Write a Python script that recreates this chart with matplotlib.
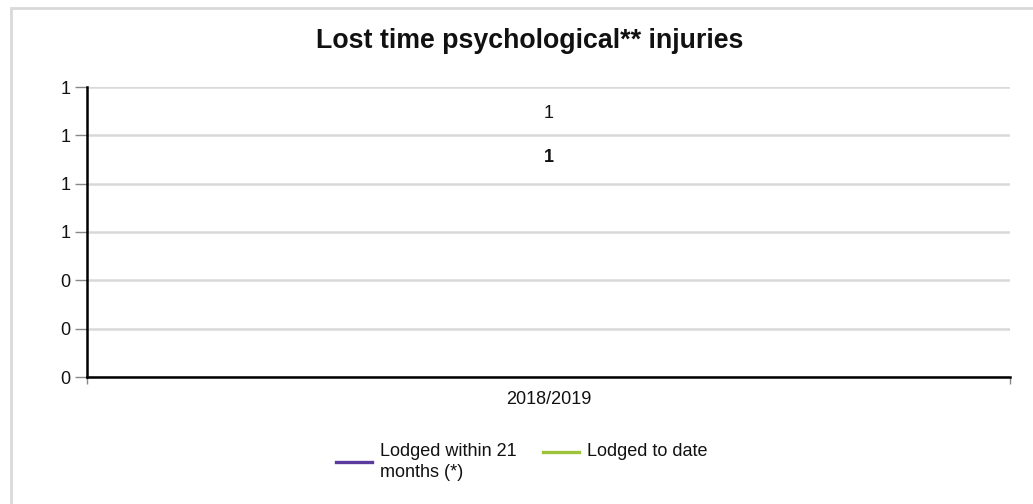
import matplotlib
matplotlib.use("Agg")
import matplotlib.pyplot as plt
from matplotlib.lines import Line2D
from matplotlib.patches import Rectangle
from matplotlib.ticker import FuncFormatter, FixedLocator

plt.rcParams['font.family'] = ['Liberation Sans', 'DejaVu Sans']

# Data
categories = ["2018/2019"]
within_21_months = [1]
to_date = [1]
y_ticks = [0, 0.2, 0.4, 0.6, 0.8, 1.0, 1.2]

PURPLE = "#5b3a9e"
GREEN = "#9dc33b"
GRID = "#d9d9d9"

W, H = 1033, 504
fig = plt.figure(figsize=(W / 100, H / 100), dpi=100)

# Outer panel frame
fig.patches.append(Rectangle((11 / W, -0.1), 1.2, 1 - 8 / H + 0.1,
                             transform=fig.transFigure, fill=False,
                             edgecolor=GRID, linewidth=2.0, zorder=0))

ax = fig.add_axes([87 / W, 1 - 377 / H, (1010 - 87) / W, (377 - 87) / H])
x = list(range(len(categories)))

ax.plot(x, within_21_months, color=PURPLE, linewidth=2.5)
ax.plot(x, to_date, color=GREEN, linewidth=2.5)

# Value labels
for xi, v in zip(x, to_date):
    ax.annotate(f"{v:.0f}", (xi, v), xytext=(0, 15.5), textcoords="offset points",
                ha="center", va="center", fontsize=13, color="#111111")
for xi, v in zip(x, within_21_months):
    ax.annotate(f"{v:.0f}", (xi, v), xytext=(0, -16), textcoords="offset points",
                ha="center", va="center", fontsize=13, fontweight="bold", color="#111111")

ax.set_xlim(-0.5, 0.5)
ax.set_ylim(0, 1.2)
ax.set_yticks(y_ticks)
ax.yaxis.set_major_formatter(FuncFormatter(lambda v, p: f"{v:.0f}"))
ax.set_xticks(x)
ax.set_xticklabels(categories)
ax.xaxis.set_minor_locator(FixedLocator([-0.5, 0.5]))

ax.grid(axis="y", color=GRID, linewidth=1.8)
ax.set_axisbelow(True)
for s in ("top", "right"):
    ax.spines[s].set_visible(False)
for s in ("left", "bottom"):
    ax.spines[s].set_color("black")
    ax.spines[s].set_linewidth(1.8)
    ax.spines[s].set_zorder(5)

ax.tick_params(axis="y", length=9, width=1, color="#888888", pad=3,
               labelsize=13, labelcolor="#111111")
ax.tick_params(axis="x", which="major", length=0, pad=10,
               labelsize=13, labelcolor="#111111")
ax.tick_params(axis="x", which="minor", length=5, width=1, color="#888888")

fig.text(530 / W, 1 - 41 / H, "Lost time psychological** injuries", ha="center",
         va="center", fontsize=19.3, fontweight="bold", color="#111111")

# Legend
fig.add_artist(Line2D([336 / W, 372 / W], [1 - 462 / H] * 2, color=PURPLE,
                      linewidth=2.4, transform=fig.transFigure))
fig.text(380 / W, 1 - 462 / H, "Lodged within 21\nmonths (*)", ha="left",
         va="center", fontsize=13, color="#111111", linespacing=1.38)
fig.add_artist(Line2D([543 / W, 579 / W], [1 - 452 / H] * 2, color=GREEN,
                      linewidth=2.4, transform=fig.transFigure))
fig.text(587 / W, 1 - 452 / H, "Lodged to date", ha="left",
         va="center", fontsize=13, color="#111111")

fig.savefig("out.png", dpi=100)
